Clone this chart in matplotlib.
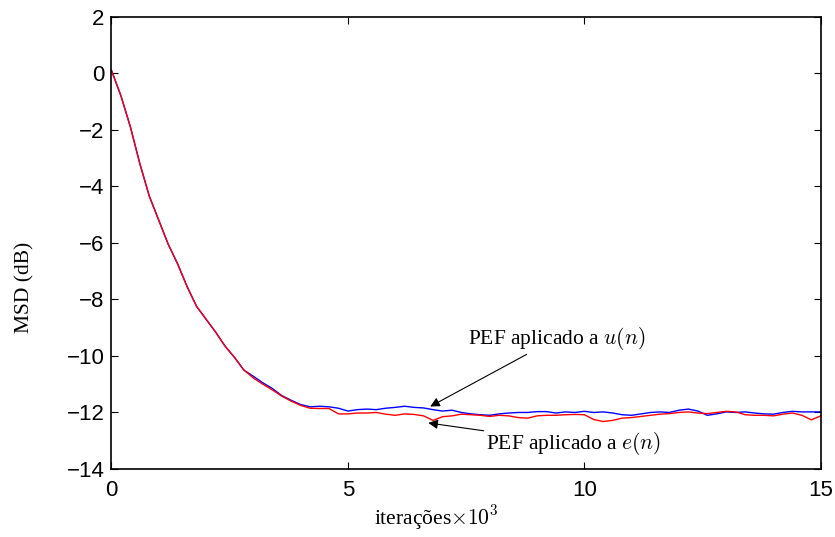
import matplotlib
matplotlib.use("Agg")
import matplotlib.pyplot as plt
import numpy as np

# iterations (x 10^3)
x = [round(0.2 * i, 1) for i in range(76)]

descent = [0.1, -0.8, -1.9, -3.2, -4.35, -5.2, -6.05, -6.75, -7.55, -8.25,
           -8.7, -9.15, -9.65, -10.05, -10.5, -10.72, -10.95, -11.15, -11.4, -11.57,
           -11.72]

msd_u = descent + [
    -11.8, -11.78, -11.8, -11.85, -11.95, -11.9, -11.88, -11.9, -11.85, -11.82,
    -11.78, -11.82, -11.84, -11.9, -11.95, -11.92, -12.0, -12.05, -12.08, -12.1,
    -12.05, -12.02, -12.0, -12.0, -11.97, -11.97, -12.02, -11.98, -12.0, -11.96,
    -12.0, -11.98, -12.02, -12.08, -12.1, -12.05, -12.0, -11.98, -12.0, -11.92,
    -11.88, -11.95, -12.1, -12.05, -11.98, -12.0, -11.98, -12.02, -12.05, -12.06,
    -12.0, -11.96, -11.98, -11.98, -11.98]

msd_e = [0.1, -0.8, -1.9, -3.2, -4.35, -5.2, -6.05, -6.75, -7.55, -8.25,
         -8.7, -9.15, -9.65, -10.05, -10.5, -10.78, -11.0, -11.2, -11.42, -11.6,
         -11.75] + [
    -11.85, -11.86, -11.86, -12.05, -12.05, -12.02, -12.02, -12.0, -12.06, -12.1,
    -12.05, -12.07, -12.12, -12.28, -12.15, -12.12, -12.06, -12.08, -12.1, -12.14,
    -12.1, -12.12, -12.18, -12.2, -12.12, -12.1, -12.1, -12.08, -12.07, -12.08,
    -12.25, -12.32, -12.28, -12.2, -12.18, -12.14, -12.1, -12.06, -12.04, -12.0,
    -11.98, -12.02, -12.04, -12.0, -11.96, -11.98, -12.08, -12.1, -12.1, -12.12,
    -12.06, -12.02, -12.1, -12.26, -12.12]

xticks = [0, 5, 10, 15]
yticks = [-14, -12, -10, -8, -6, -4, -2, 0, 2]

plt.rcParams['mathtext.fontset'] = 'cm'

W, H = 835, 537
fig = plt.figure(figsize=(W / 100, H / 100), dpi=100)
ax = fig.add_axes([0.1335, 0.1266, 0.983 - 0.1335, 0.969 - 0.1266])

ax.plot(x, msd_u, color='#0000ff', lw=1.0)
ax.plot(x, msd_e, color='#ff0000', lw=1.0)

ax.set_xlim(0, 15)
ax.set_ylim(-14, 2)
ax.set_xticks(xticks)
ax.set_yticks(yticks)
ax.set_yticklabels(['\u2212' + str(-v) if v < 0 else str(v) for v in yticks])
ax.tick_params(direction='in', length=5, width=0.8, top=True, right=True,
               labelsize=16)
ax.tick_params(axis='x', pad=8)
ax.tick_params(axis='y', pad=5)
for lab in ax.get_xticklabels() + ax.get_yticklabels():
    lab.set_family('Liberation Sans')
for s in ax.spines.values():
    s.set_linewidth(1.2)

fig.text(436.5 / W, 1 - 518 / H, 'itera\u00e7\u00f5es$\\times10^3$',
         family='Liberation Serif', fontsize=15.5, ha='center', va='center')
fig.text(25 / W, 1 - 287 / H, 'MSD (dB)', family='Liberation Serif',
         fontsize=15.5, ha='center', va='center', rotation=90)

ax.annotate('PEF aplicado a $u(n)$', xy=(6.74, -11.79), xytext=(7.54, -9.37),
            family='Liberation Serif', fontsize=15.5, va='center', ha='left',
            arrowprops=dict(arrowstyle='-|>', color='black', lw=0.8,
                            shrinkA=0, shrinkB=0, mutation_scale=14),
            )
ax.annotate('PEF aplicado a $e(n)$', xy=(6.70, -12.37), xytext=(7.93, -13.1),
            family='Liberation Serif', fontsize=15.5, va='center', ha='left',
            arrowprops=dict(arrowstyle='-|>', color='black', lw=0.8,
                            shrinkA=0, shrinkB=0, mutation_scale=14),
            )

fig.savefig('out.png', dpi=100)
